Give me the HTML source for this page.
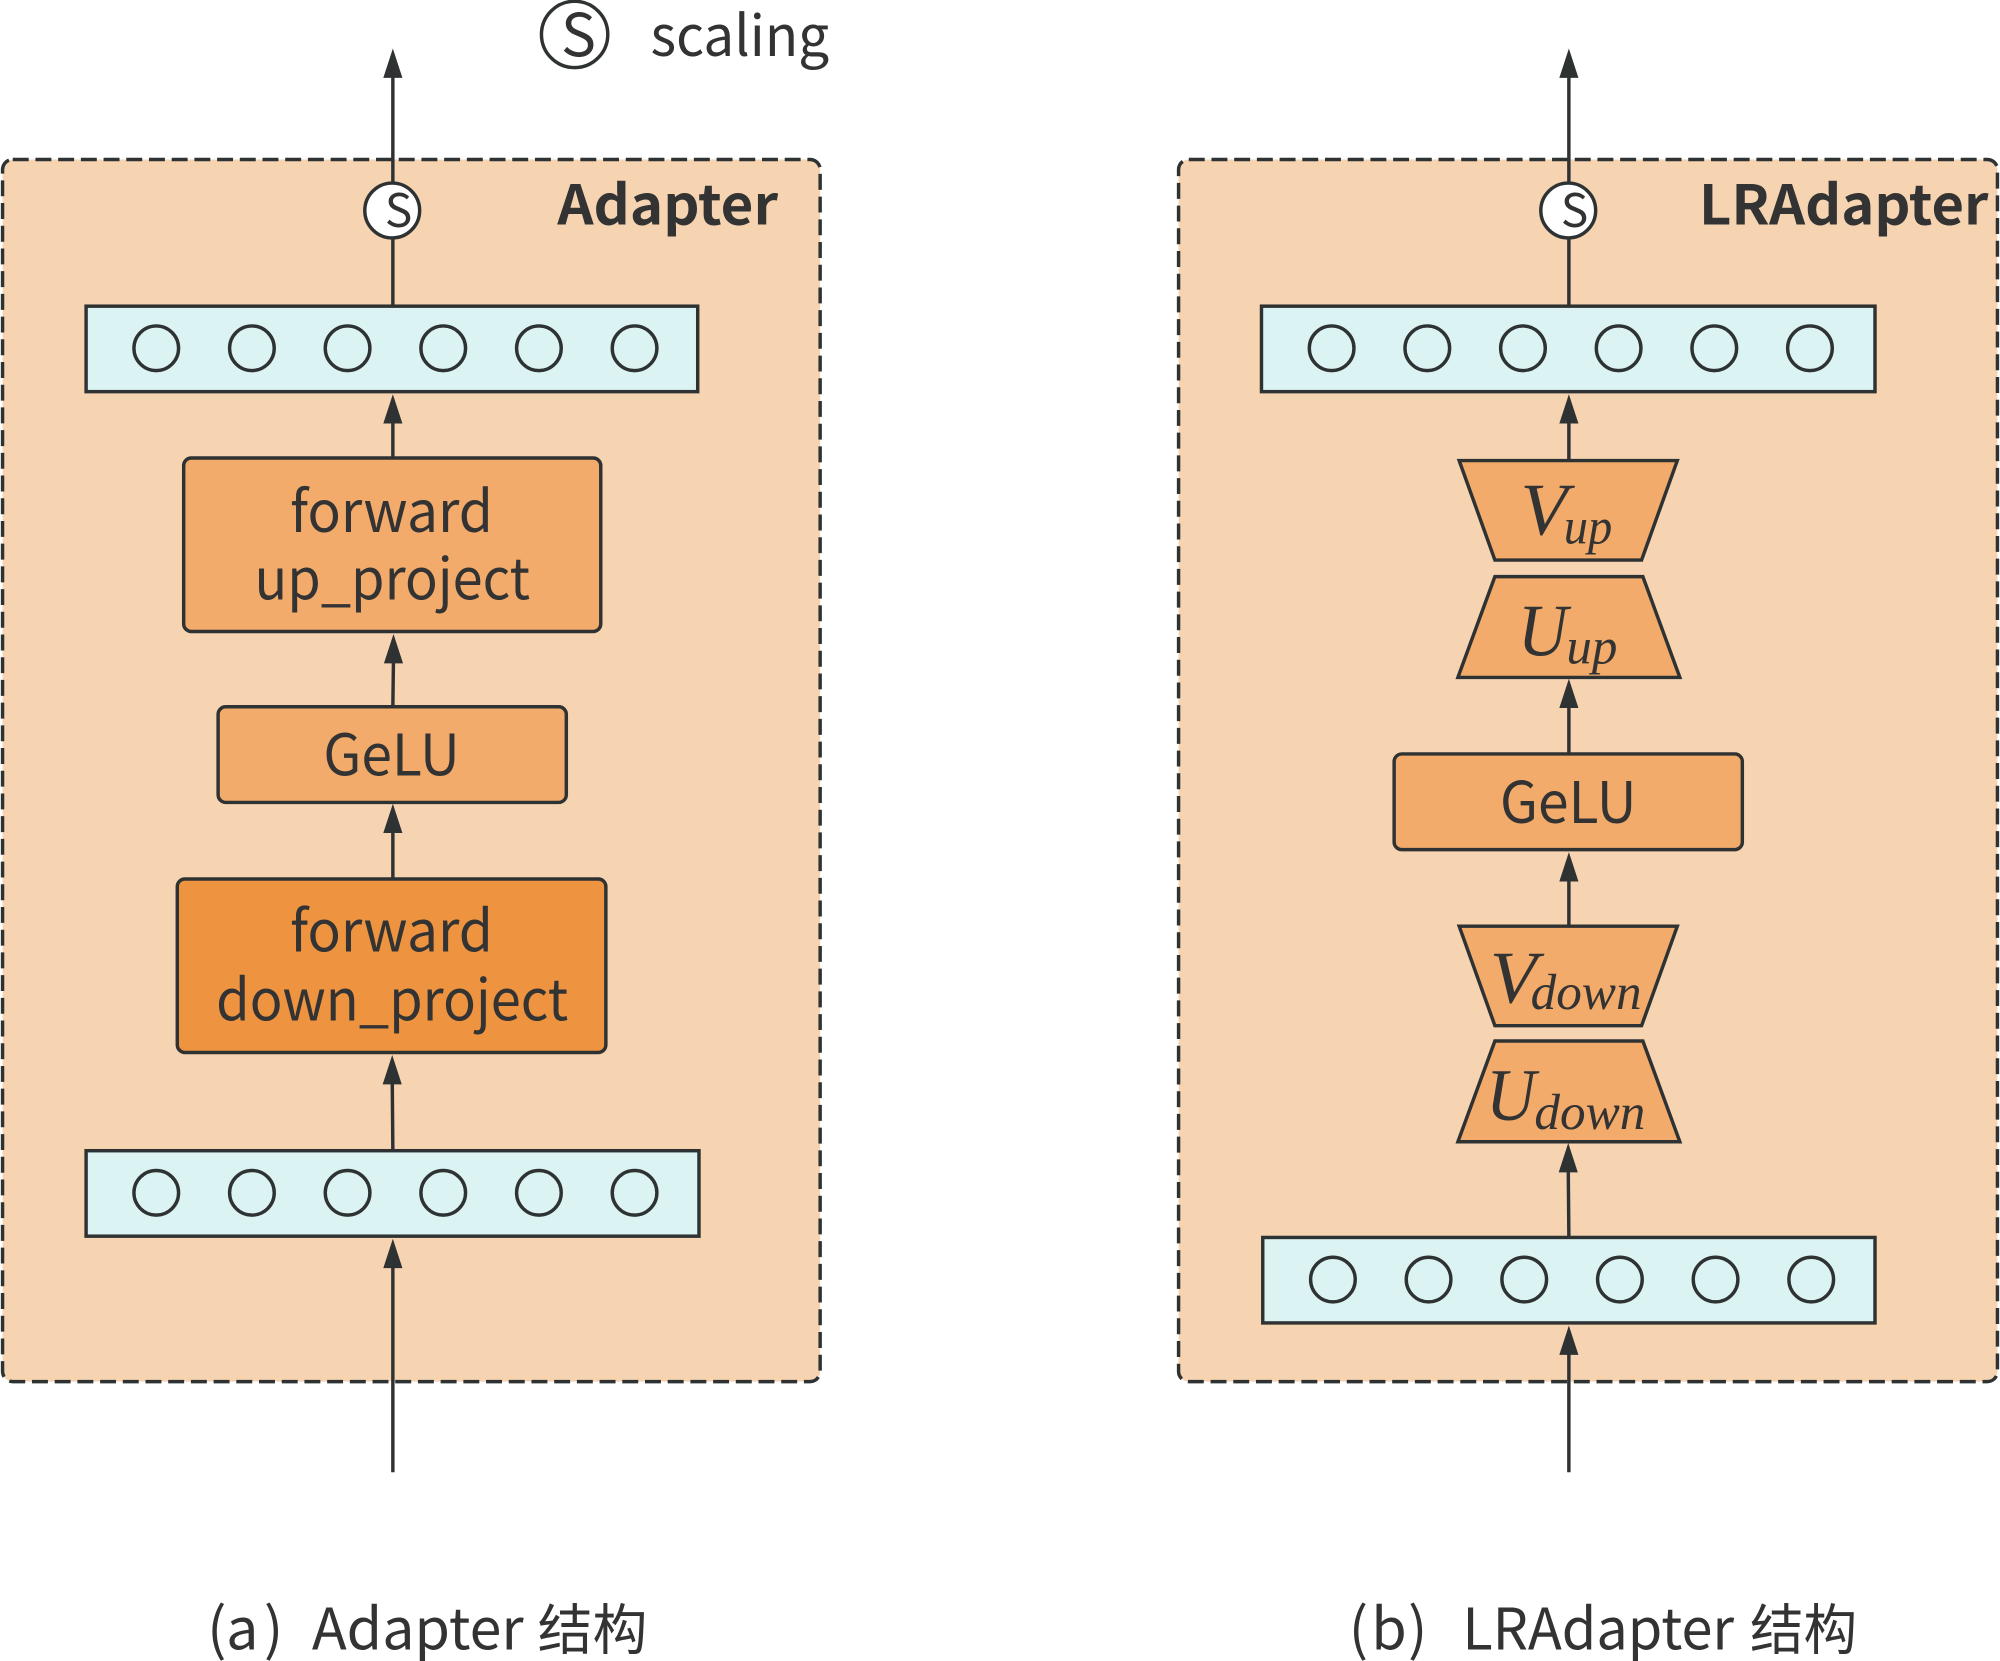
<!DOCTYPE html>
<html><head><meta charset="utf-8"><style>
html,body{margin:0;padding:0;background:#fff}
svg{display:block}
.t{font-family:"Noto Sans CJK SC","Liberation Sans",sans-serif;fill:#333;text-anchor:middle}
.m{font-family:"Liberation Serif",serif;font-style:italic;fill:#333}
.s{stroke:#2f3233;stroke-width:2.7}
</style></head><body>
<svg width="2000" height="1661" viewBox="0 0 1568 1302" preserveAspectRatio="none" xmlns="http://www.w3.org/2000/svg">
<defs>
<path id="h" d="M0 0L7.500 23H-7.500Z" fill="#2f3233"/>
<g id="row" fill="none" class="s"><circle cx="0" cy="0" r="17.500"/><circle cx="75" cy="0" r="17.500"/><circle cx="150" cy="0" r="17.500"/><circle cx="225" cy="0" r="17.500"/><circle cx="300" cy="0" r="17.500"/><circle cx="375" cy="0" r="17.500"/></g>
</defs>
<!-- panels -->
<rect x="2" y="125" width="641" height="958" rx="8" fill="#F6D4B2" class="s" stroke-dasharray="12.500 5.300"/>
<rect x="924" y="125" width="642" height="958" rx="8" fill="#F6D4B2" class="s" stroke-dasharray="12.500 5.300"/>
<!-- connector lines -->
<g class="s" fill="none">
<path d="M308 1154V990M308 902L307.500 845M308 689V650M308 554L308.500 515M308 359V328M308 240V60"/>
<path d="M1230 1154V1058M1230 970L1229.500 915M1230 726V686M1230 591V551M1230 361V328M1230 240V60"/>
</g>
<use href="#h" x="308" y="971"/><use href="#h" x="307.500" y="827"/><use href="#h" x="308" y="630"/><use href="#h" x="308.500" y="497"/><use href="#h" x="308" y="309"/><use href="#h" x="308" y="38"/>
<use href="#h" x="1230" y="1039"/><use href="#h" x="1229.500" y="896"/><use href="#h" x="1230" y="668"/><use href="#h" x="1230" y="532"/><use href="#h" x="1230" y="309"/><use href="#h" x="1230" y="38"/>
<!-- A rows -->
<rect x="67.500" y="240" width="479.500" height="67" fill="#DBF4F3" class="s"/>
<use href="#row" x="122.500" y="273"/>
<rect x="67.500" y="902" width="480.500" height="67" fill="#DBF4F3" class="s"/>
<use href="#row" x="122.500" y="935"/>
<!-- A boxes -->
<rect x="144" y="359" width="327" height="136" rx="6" fill="#F2AB6A" class="s"/>
<rect x="171" y="554" width="273" height="75" rx="6" fill="#F2AB6A" class="s"/>
<rect x="139" y="689" width="336" height="136" rx="6" fill="#EE9441" class="s"/>
<text class="t" x="307" y="417" font-size="45" textLength="159" lengthAdjust="spacingAndGlyphs">forward</text>
<text class="t" x="307.500" y="470" font-size="45" textLength="216" lengthAdjust="spacingAndGlyphs">up_project</text>
<text class="t" x="307" y="608" font-size="45" textLength="107" lengthAdjust="spacingAndGlyphs">GeLU</text>
<text class="t" x="307" y="746" font-size="45" textLength="159" lengthAdjust="spacingAndGlyphs">forward</text>
<text class="t" x="307.500" y="800" font-size="45" textLength="276" lengthAdjust="spacingAndGlyphs">down_project</text>
<!-- B rows -->
<rect x="989" y="240" width="481" height="67" fill="#DBF4F3" class="s"/>
<use href="#row" x="1044" y="273"/>
<rect x="990" y="970" width="480" height="67" fill="#DBF4F3" class="s"/>
<use href="#row" x="1045" y="1003"/>
<!-- B shapes -->
<path d="M1144 361H1315L1287 439H1172Z" fill="#F2AB6A" class="s"/>
<path d="M1172 452H1288L1317 531H1143Z" fill="#F2AB6A" class="s"/>
<rect x="1093" y="591" width="273" height="75" rx="6" fill="#F2AB6A" class="s"/>
<path d="M1144 726H1315L1287 804H1172Z" fill="#F2AB6A" class="s"/>
<path d="M1172 816H1288L1317 895H1143Z" fill="#F2AB6A" class="s"/>
<text class="t" x="1229.500" y="645" font-size="45" textLength="107" lengthAdjust="spacingAndGlyphs">GeLU</text>
<text class="m" x="1192" y="419" font-size="58" textLength="37" lengthAdjust="spacingAndGlyphs">V</text>
<text class="m" x="1226" y="426" font-size="40" textLength="38" lengthAdjust="spacingAndGlyphs">up</text>
<text class="m" x="1190" y="514" font-size="58" textLength="39" lengthAdjust="spacingAndGlyphs">U</text>
<text class="m" x="1228" y="520" font-size="40" textLength="40" lengthAdjust="spacingAndGlyphs">up</text>
<text class="m" x="1168" y="786" font-size="58" textLength="37" lengthAdjust="spacingAndGlyphs">V</text>
<text class="m" x="1200" y="791" font-size="40" textLength="87" lengthAdjust="spacingAndGlyphs">down</text>
<text class="m" x="1165" y="878" font-size="58" textLength="39" lengthAdjust="spacingAndGlyphs">U</text>
<text class="m" x="1203" y="885" font-size="40" textLength="87" lengthAdjust="spacingAndGlyphs">down</text>
<!-- scaling nodes -->
<circle cx="307.500" cy="165" r="21.500" fill="#fff" class="s"/>
<text class="t" x="312.500" y="178" font-size="36">S</text>
<circle cx="1229.500" cy="165" r="21.500" fill="#fff" class="s"/>
<text class="t" x="1234.500" y="178" font-size="36">S</text>
<circle cx="450.500" cy="27" r="26" fill="#fff" class="s"/>
<text class="t" x="453.500" y="44" font-size="46">S</text>
<text class="t" x="580" y="44" font-size="44" textLength="140" lengthAdjust="spacingAndGlyphs">scaling</text>
<!-- titles -->
<text class="t" x="523.500" y="176" font-size="43" font-weight="700" textLength="173" lengthAdjust="spacingAndGlyphs">Adapter</text>
<text class="t" x="1445.500" y="176" font-size="43" font-weight="700" textLength="227" lengthAdjust="spacingAndGlyphs">LRAdapter</text>
<!-- captions -->
<text class="t" x="170" y="1293" font-size="45">(</text>
<text class="t" x="190" y="1293" font-size="45">a</text>
<text class="t" x="214.500" y="1293" font-size="45">)</text>
<text class="t" x="327.500" y="1293" font-size="45" textLength="166" lengthAdjust="spacingAndGlyphs">Adapter</text>
<text class="t" x="464.500" y="1293" font-size="43" textLength="86" lengthAdjust="spacingAndGlyphs">结构</text>
<text class="t" x="1065" y="1293" font-size="45">(</text>
<text class="t" x="1089" y="1293" font-size="45">b</text>
<text class="t" x="1111.500" y="1293" font-size="45">)</text>
<text class="t" x="1253" y="1293" font-size="45" textLength="213" lengthAdjust="spacingAndGlyphs">LRAdapter</text>
<text class="t" x="1414" y="1293" font-size="43" textLength="84" lengthAdjust="spacingAndGlyphs">结构</text>
</svg>
</body></html>
